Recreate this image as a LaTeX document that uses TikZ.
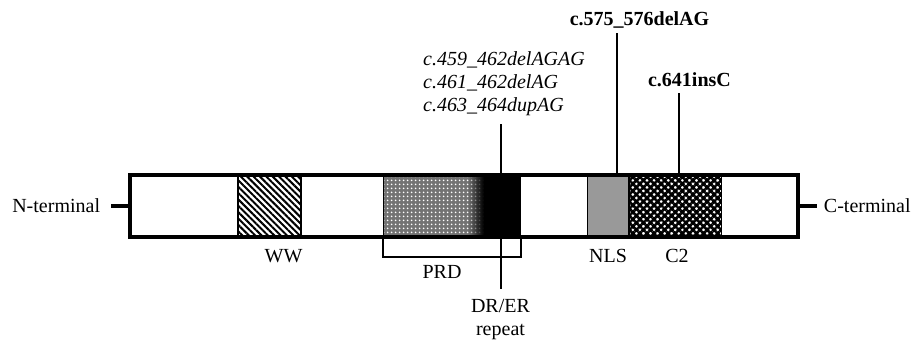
\documentclass[tikz,border=0pt]{standalone}
\usepackage{fontspec}
\setmainfont{Liberation Serif}
\usetikzlibrary{positioning,patterns.meta,fadings}
\newcommand\labfont{\fontsize{20}{23.2}\selectfont}

\begin{document}
\begin{tikzpicture}[x=1pt,y=-1pt,font=\labfont,
  lbl/.style={inner sep=0pt},
  mutit/.style={lbl,font=\labfont\itshape},
  mutbf/.style={lbl,font=\labfont\bfseries},
  dom/.style={draw,line width=1.2pt,minimum height=62pt,inner sep=0pt,anchor=west},
  mutline/.style={line width=2.4pt}]
  \useasboundingbox (0,0) rectangle (915,343);
  \node[dom,minimum width=63pt,pattern={Lines[angle=-45,distance=4.5pt,line width=2pt]}] (ww) at (237,206) {};
  \node[dom,minimum width=137pt,preaction={fill=black!55},pattern={Dots[distance=4pt,radius=1.2pt]},pattern color=white] (prd) at (383,206) {};
  \node[fill=black,inner sep=0pt,minimum width=37pt,minimum height=62pt,anchor=east] (repbox) at (prd.east) {};
  \node[fill=black,path fading=west,inner sep=0pt,minimum width=16pt,minimum height=62pt,anchor=east] (fade) at (repbox.west) {};
  \node[dom,minimum width=41pt,fill=black!40] (nls) at (587,206) {};
  \node[dom,minimum width=92pt,pattern={Hatch[angle=45,distance=5pt,line width=2.6pt]}] (c2) at (628,206) {};
  \node[draw,line width=3.5pt,minimum width=668pt,minimum height=62pt] (prot) at (464,206) {};
  \node[lbl,left=17pt of prot,inner xsep=11pt] (nterm) {N-terminal};
  \node[lbl,right=17pt of prot,inner xsep=7pt] (cterm) {C-terminal};
  \draw[line width=3.5pt] (prot.west) -- (nterm.east);
  \draw[line width=3.5pt] (prot.east) -- (cterm.west);
  \coordinate (repx) at (501,0);
  \coordinate (del575) at (617,0);
  \coordinate (ins641) at (679,0);
  \coordinate (brk) at (0,257);
  \node[mutit,align=left,anchor=north west] (mut1) at (423,51.5) {c.459\_462delAGAG\\c.461\_462delAG\\c.463\_464dupAG};
  \node[mutbf,anchor=base] (mut2) at (639.5,25) {c.575\_576delAG};
  \node[mutbf,anchor=base] (mut3) at (689.5,86) {c.641insC};
  \draw[mutline,shorten <=8pt] (mut1.south -| repx) -- (prot.north -| repx);
  \draw[mutline,shorten <=5.5pt] (mut2.south -| del575) -- (prot.north -| del575);
  \draw[mutline,shorten <=7pt] (mut3.south -| ins641) -- (prot.north -| ins641);
  \node[lbl,anchor=base] (wwlab) at (283.5,262) {WW};
  \node[lbl,anchor=base] (nlslab) at (608,262) {NLS};
  \node[lbl,anchor=base] (c2lab) at (677,262) {C2};
  \node[lbl,anchor=base] (prdlab) at (442,278) {PRD};
  \node[lbl,align=center,anchor=north] (drer) at (500.5,299) {DR/ER\\repeat};
  \draw[line width=2pt] (prd.south west) -- (prd.south west |- brk) -| (prd.south east);
  \draw[mutline,shorten >=10pt] (prot.south -| repx) -- (drer.north -| repx);
\end{tikzpicture}
\end{document}
